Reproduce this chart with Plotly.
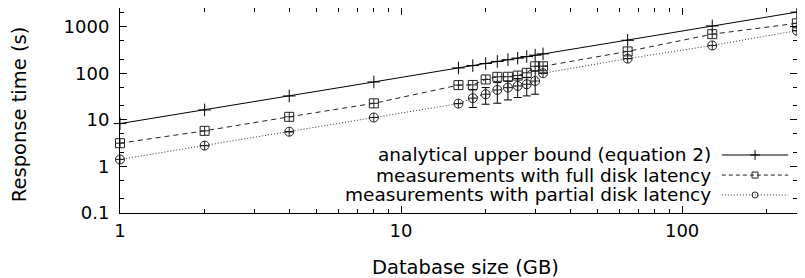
import plotly.graph_objects as go

# ---- data ----
sizes_gb = [1, 2, 4, 8, 16, 18, 20, 22, 24, 26, 28, 30, 32, 64, 128, 256]
analytical = [8.3, 16.3, 32.5, 65, 130, 146, 162, 179, 195, 211, 228, 244, 260, 510, 1035, 2050]
full_latency = [3.15, 5.8, 11.6, 22.6, 55.6, 56, 73.5, 83.8, 84, 89, 102, 141, 141, 294, 689, 1180]
partial_latency = [1.41, 2.8, 5.56, 11.2, 22.3, 29.1, 35.4, 43.8, 49.2, 53.3, 58, 68, 100, 206, 394, 822]
partial_hi = [1.41, 2.8, 5.56, 11.2, 22.3, 43.8, 49.2, 63, 68, 76.7, 80.5, 111, 100, 206, 394, 822]
partial_lo = [1.41, 2.8, 5.56, 11.2, 22.3, 18.4, 21.6, 22.7, 26.7, 30.1, 32.6, 35.4, 100, 206, 394, 822]

series_names = [
    "analytical upper bound (equation 2)",
    "measurements with full disk latency",
    "measurements with partial disk latency",
]
y_tickvals = [0.1, 1, 10, 100, 1000]
y_ticktext = ["0.1", "1", "10", "100", "1000"]
x_tickvals = [1, 10, 100]
x_ticktext = ["1", "10", "100"]

err_plus = [h - v for h, v in zip(partial_hi, partial_latency)]
err_minus = [v - l for v, l in zip(partial_latency, partial_lo)]

FONT = "DejaVu Sans"
fig = go.Figure()

fig.add_trace(go.Scatter(
    x=sizes_gb, y=analytical, mode="lines+markers", name=series_names[0],
    line=dict(color="black", width=1), cliponaxis=False,
    marker=dict(symbol="cross-thin-open", size=9, color="black", line=dict(color="black", width=1)),
    showlegend=False,
))
fig.add_trace(go.Scatter(
    x=sizes_gb, y=full_latency, mode="lines+markers", name=series_names[1],
    line=dict(color="#222", width=1, dash="5px,4px"), cliponaxis=False,
    marker=dict(symbol="square-cross-open", size=9, color="#222", line=dict(color="#222", width=1)),
    showlegend=False,
))
fig.add_trace(go.Scatter(
    x=sizes_gb, y=partial_latency, mode="lines+markers", name=series_names[2],
    line=dict(color="#333", width=1, dash="1px,2px"), cliponaxis=False,
    marker=dict(symbol="circle-cross-open", size=9, color="#222", line=dict(color="#222", width=1)),
    error_y=dict(type="data", symmetric=False, array=err_plus, arrayminus=err_minus,
                 color="black", thickness=1, width=4),
    showlegend=False,
))

# ---- gnuplot-style legend (text right-aligned, sample on the right) ----
leg_rows = [0.283, 0.185, 0.088]
leg_x0, leg_x1, leg_xm, leg_text_x = 0.889, 0.987, 0.938, 0.876
leg_styles = [
    (dict(color="black", width=1), dict(symbol="cross-thin-open", size=7, color="black", line=dict(color="black", width=1))),
    (dict(color="#222", width=1, dash="4px,3px"), dict(symbol="square-open", size=6, color="#222", line=dict(color="#222", width=1))),
    (dict(color="#333", width=1, dash="1px,2px"), dict(symbol="circle-open", size=6, color="#222", line=dict(color="#222", width=1))),
]
for name, yr, (ls, ms) in zip(series_names, leg_rows, leg_styles):
    fig.add_trace(go.Scatter(x=[leg_x0, leg_x1], y=[yr, yr], mode="lines", line=ls,
                             xaxis="x2", yaxis="y2", showlegend=False, hoverinfo="skip"))
    fig.add_trace(go.Scatter(x=[leg_xm], y=[yr], mode="markers", marker=ms,
                             xaxis="x2", yaxis="y2", showlegend=False, hoverinfo="skip"))
    fig.add_annotation(x=leg_text_x, y=yr, xref="x2", yref="y2", text=name, showarrow=False,
                       xanchor="right", yanchor="middle",
                       font=dict(family=FONT, size=18.5, color="black"))

# axis titles placed like gnuplot
fig.add_annotation(x=0.511, y=-0.268, xref="paper", yref="paper", text="Database size (GB)",
                   showarrow=False, xanchor="center", yanchor="middle",
                   font=dict(family=FONT, size=19.5, color="black"))
fig.add_annotation(x=-0.149, y=0.478, xref="paper", yref="paper", text="Response time (s)",
                   showarrow=False, xanchor="center", yanchor="middle", textangle=-90,
                   font=dict(family=FONT, size=19.5, color="black"))

axis_common = dict(
    type="log", showline=True, linecolor="black", linewidth=1, mirror="ticks",
    ticks="inside", ticklen=7, tickcolor="black", tickwidth=1, showgrid=False, zeroline=False,
    automargin=False, tickfont=dict(family=FONT, size=18, color="black"),
)

# the page body keeps an 8px margin, so the figure is 8px smaller and margins shifted
fig.update_layout(
    width=797, height=270,
    margin=dict(l=112, r=8, t=0, b=65),
    paper_bgcolor="white", plot_bgcolor="white",
    xaxis=dict(
        **axis_common, range=[0, 2.4087], tickmode="array", tickvals=x_tickvals, ticktext=x_ticktext,
        minor=dict(ticks="inside", ticklen=4, tickcolor="black", dtick="D1"),
        ticklabelstandoff=1,
    ),
    yaxis=dict(
        **axis_common, range=[-1, 3.4], tickmode="array", tickvals=y_tickvals, ticktext=y_ticktext,
        minor=dict(ticks="inside", ticklen=4, tickcolor="black", dtick="D2"),
        ticklabelstandoff=6,
    ),
    xaxis2=dict(domain=[0, 1], range=[0, 1], visible=False, overlaying="x", anchor="y2"),
    yaxis2=dict(domain=[0, 1], range=[0, 1], visible=False, overlaying="y", anchor="x2"),
)

fig.write_html("out.html")
